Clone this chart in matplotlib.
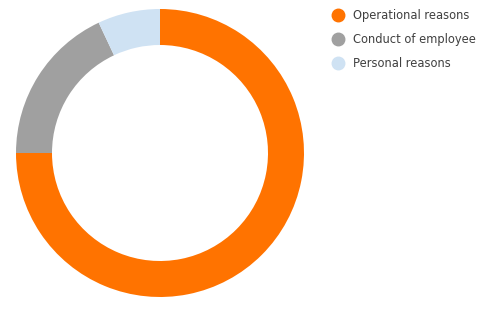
import matplotlib
matplotlib.use("Agg")
import matplotlib.pyplot as plt
from matplotlib.lines import Line2D

labels = ["Operational reasons", "Conduct of employee", "Personal reasons"]
shares = [75, 18, 7]
colors = ["#ff7300", "#a0a0a0", "#cfe2f3"]

plt.rcParams["font.family"] = ["DejaVu Sans"]

W, H = 492, 310
fig = plt.figure(figsize=(W / 100, H / 100), dpi=100)
fig.patch.set_facecolor("white")

# donut: centre (160,153) px, outer radius 144 px
cx, cy, r = 160, 153, 144
ax = fig.add_axes([(cx - r) / W, (H - cy - r) / H, 2 * r / W, 2 * r / H])
ax.pie(shares, colors=colors, startangle=90, counterclock=False,
       radius=1, wedgeprops=dict(width=0.25, edgecolor="none"))
ax.set_xlim(-1, 1)
ax.set_ylim(-1, 1)
ax.set_aspect("equal")
ax.axis("off")

handles = [Line2D([], [], marker="o", linestyle="none", markersize=9,
                  markerfacecolor=c, markeredgecolor=c) for c in colors]
fig.legend(handles, labels, loc="upper left", bbox_to_anchor=(328 / W, 1 - 6 / H),
           frameon=False, fontsize=8.3, handletextpad=0.7, labelspacing=0.92,
           handlelength=1.2, borderaxespad=0, borderpad=0.3, labelcolor="#404040")

fig.savefig("out.png", dpi=100)
